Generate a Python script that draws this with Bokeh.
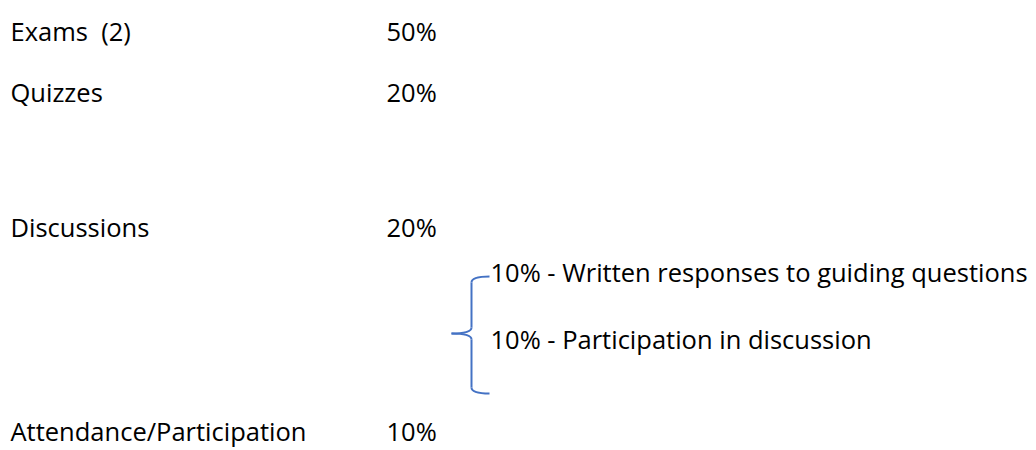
from bokeh.plotting import figure
from bokeh.models import Range1d
from bokeh.core.properties import value
from bokeh.embed import file_html
from bokeh.resources import INLINE

# ---- data ----
categories = ["Exams\u00a0\u00a0(2)", "Quizzes", "Discussions", "Attendance/Participation"]
weights = ["50%", "20%", "20%", "10%"]
sub_items = ["10% - Written responses to guiding questions", "10% - Participation in discussion"]

# layout (page pixel coordinates)
cat_x = 10
pct_x = 386
sub_x = 490
cat_y = [30, 91, 226, 430]
sub_y = [271, 338]

# brace geometry
brace_x0 = [489, 471, 451, 471]
brace_y0 = [276, 327, 333, 387]
brace_x1 = [471, 451, 471, 489]
brace_y1 = [282, 333, 339, 393]
brace_cx = [471, 471, 471, 471]
brace_cy = [276, 333, 333, 393]
vert_x0 = [471, 471]
vert_y0 = [282, 339]
vert_y1 = [327, 387]

FONT = value("Open Sans")
SIZE = "25.5px"
BLUE = "#4472C4"

p = figure(width=1036, height=450, output_backend="svg", toolbar_location=None,
           x_range=Range1d(0, 1036), y_range=Range1d(450, 0), min_border=0)
p.axis.visible = False
p.xgrid.visible = False
p.ygrid.visible = False
p.outline_line_color = None
p.background_fill_color = "white"

p.text(x=[cat_x] * len(categories), y=cat_y, text=categories, text_font=FONT,
       text_font_size=SIZE, text_color="black", text_baseline="alphabetic", text_align="left")
p.text(x=[pct_x] * len(weights), y=cat_y, text=weights, text_font=FONT,
       text_font_size=SIZE, text_color="black", text_baseline="alphabetic", text_align="left")
p.text(x=[sub_x] * len(sub_items), y=sub_y, text=sub_items, text_font=FONT,
       text_font_size=SIZE, text_color="black", text_baseline="alphabetic", text_align="left")

p.quadratic(x0=brace_x0, y0=brace_y0, x1=brace_x1, y1=brace_y1, cx=brace_cx, cy=brace_cy,
            line_color=BLUE, line_width=2)
p.segment(x0=vert_x0, y0=vert_y0, x1=vert_x0, y1=vert_y1, line_color=BLUE, line_width=2)

open("out.html", "w").write(file_html(p, INLINE))
